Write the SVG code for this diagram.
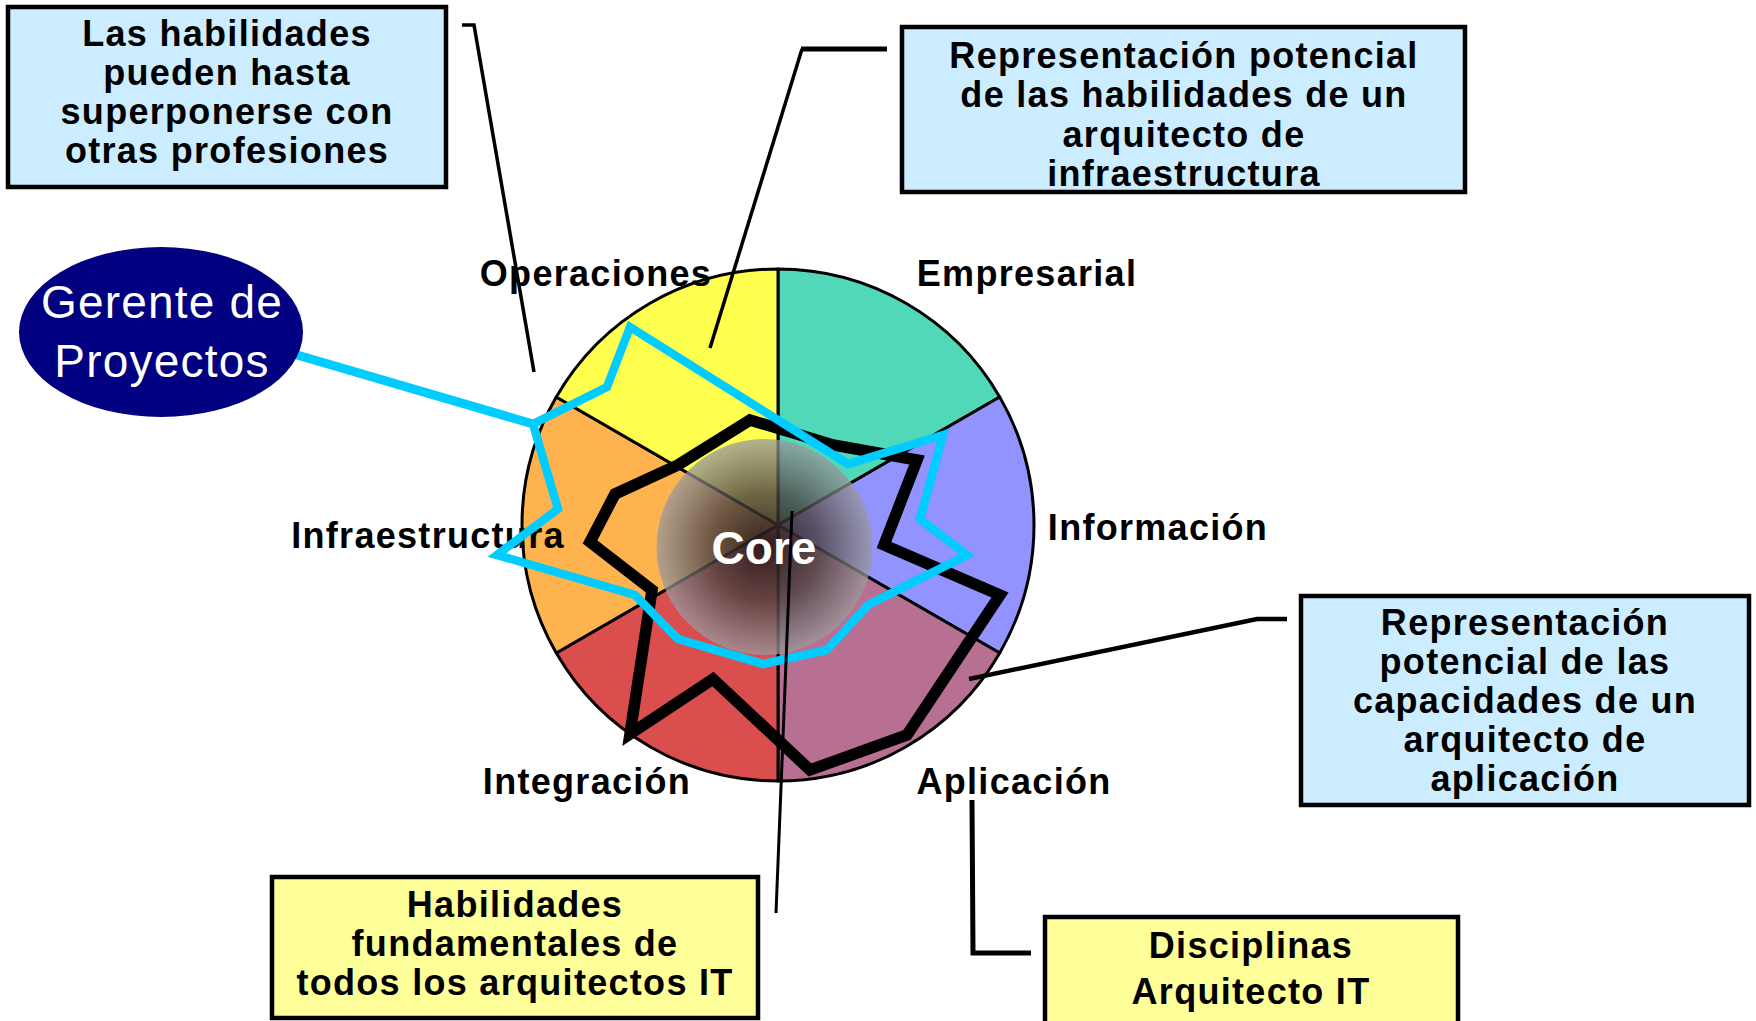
<svg xmlns="http://www.w3.org/2000/svg" width="1756" height="1021" viewBox="0 0 1756 1021">
<defs>
<radialGradient id="coreGrad" cx="0.5" cy="0.5" r="0.5">
<stop offset="0" stop-color="#1e1414" stop-opacity="0.9"/>
<stop offset="0.5" stop-color="#4a4040" stop-opacity="0.8"/>
<stop offset="1" stop-color="#9a9a9e" stop-opacity="0.75"/>
</radialGradient>
</defs>
<style>
.t{font-family:"Liberation Sans",Arial,sans-serif;font-weight:bold;font-size:36px;letter-spacing:1.3px;fill:#000;text-anchor:middle}
.w{font-family:"Liberation Sans",Arial,sans-serif;font-size:46px;letter-spacing:1.2px;fill:#fff;text-anchor:middle}
.core{font-family:"Liberation Sans",Arial,sans-serif;font-weight:bold;font-size:46px;fill:#fff;text-anchor:middle}
.sec{stroke:#000;stroke-width:3;stroke-linejoin:round}
.boxb{fill:#CCECFF;stroke:#000;stroke-width:4.5}
.boxy{fill:#FFFF99;stroke:#000;stroke-width:4.5}
.con{fill:none;stroke:#000;stroke-linejoin:miter}
</style>
<rect width="1756" height="1021" fill="#fff"/>

<g id="pie">
<g id="sector-empresarial"><path class="sec" fill="#50D8B8" d="M778,525 L778,269 A256,256 0 0 1 999.7,397 Z"/></g>
<g id="sector-informacion"><path class="sec" fill="#9393FF" d="M778,525 L999.7,397 A256,256 0 0 1 999.7,653 Z"/></g>
<g id="sector-aplicacion"><path class="sec" fill="#B87092" d="M778,525 L999.7,653 A256,256 0 0 1 778,781 Z"/></g>
<g id="sector-integracion"><path class="sec" fill="#DA4E4E" d="M778,525 L778,781 A256,256 0 0 1 556.3,653 Z"/></g>
<g id="sector-infraestructura"><path class="sec" fill="#FFB34F" d="M778,525 L556.3,653 A256,256 0 0 1 556.3,397 Z"/></g>
<g id="sector-operaciones"><path class="sec" fill="#FFFF50" d="M778,525 L556.3,397 A256,256 0 0 1 778,269 Z"/></g>
</g>

<g id="core">
<circle cx="764.5" cy="547" r="108" fill="url(#coreGrad)"/>
<text class="core" x="764" y="564">Core</text>
</g>

<g id="labels">
<text class="t" x="596" y="286">Operaciones</text>
<text class="t" x="1027" y="286">Empresarial</text>
<text class="t" x="1158" y="540">Información</text>
<text class="t" x="428" y="548">Infraestructura</text>
<text class="t" x="587" y="794">Integración</text>
<text class="t" x="1014" y="794">Aplicación</text>
</g>

<g id="profile-arquitecto-aplicacion">
<polygon points="630,734 713,679 810,770 907,735 1000,595 884,545 917,460 833,445 750,420 678,465 615,494 590,542 652,590" fill="none" stroke="#000" stroke-width="11.5" stroke-linejoin="miter"/>
</g>

<g id="profile-gerente">
<polyline points="287,352 533,424" fill="none" stroke="#00CCFF" stroke-width="9"/>
<polygon points="533,424 607,387 630,327 848,464 943,435 920,519 967,555 868,605 827,650 763,664 678,639 635,595 497,555 558,509" fill="none" stroke="#00CCFF" stroke-width="8.5" stroke-linejoin="miter"/>
</g>

<g id="connectors">
<path class="con" stroke-width="3.5" d="M462,25 H474 L534,372"/>
<path class="con" stroke-width="5" d="M887,49 H801"/>
<path class="con" stroke-width="3.5" d="M802,49 L710,348"/>
<path class="con" stroke-width="4.5" d="M1287,619 H1257 L969,679"/>
<path class="con" stroke-width="5" d="M972,800 L973,953 H1031"/>
<path class="con" stroke-width="3" d="M776,913 L792,511"/>
</g>

<g id="box-superponerse">
<rect class="boxb" x="8" y="7" width="438" height="180"/>
<text class="t" x="227" y="46">Las habilidades</text>
<text class="t" x="227" y="85">pueden hasta</text>
<text class="t" x="227" y="124">superponerse con</text>
<text class="t" x="227" y="163">otras profesiones</text>
</g>

<g id="box-infraestructura">
<rect class="boxb" x="902" y="27" width="563" height="165"/>
<text class="t" x="1184" y="68">Representación potencial</text>
<text class="t" x="1184" y="107">de las habilidades de un</text>
<text class="t" x="1184" y="147">arquitecto de</text>
<text class="t" x="1184" y="186">infraestructura</text>
</g>

<g id="box-aplicacion">
<rect class="boxb" x="1301" y="596" width="448" height="209"/>
<text class="t" x="1525" y="635">Representación</text>
<text class="t" x="1525" y="674">potencial de las</text>
<text class="t" x="1525" y="713">capacidades de un</text>
<text class="t" x="1525" y="752">arquitecto de</text>
<text class="t" x="1525" y="791">aplicación</text>
</g>

<g id="box-fundamentales">
<rect class="boxy" x="272" y="877" width="486" height="141"/>
<text class="t" x="515" y="917">Habilidades</text>
<text class="t" x="515" y="956">fundamentales de</text>
<text class="t" x="515" y="995">todos los arquitectos IT</text>
</g>

<g id="box-disciplinas">
<rect class="boxy" x="1045" y="917" width="413" height="110"/>
<text class="t" x="1251" y="958">Disciplinas</text>
<text class="t" x="1251" y="1004">Arquitecto IT</text>
</g>

<g id="gerente">
<ellipse cx="161" cy="332" rx="142" ry="85" fill="#000080"/>
<text class="w" x="162" y="318">Gerente de</text>
<text class="w" x="162" y="377">Proyectos</text>
</g>
</svg>
